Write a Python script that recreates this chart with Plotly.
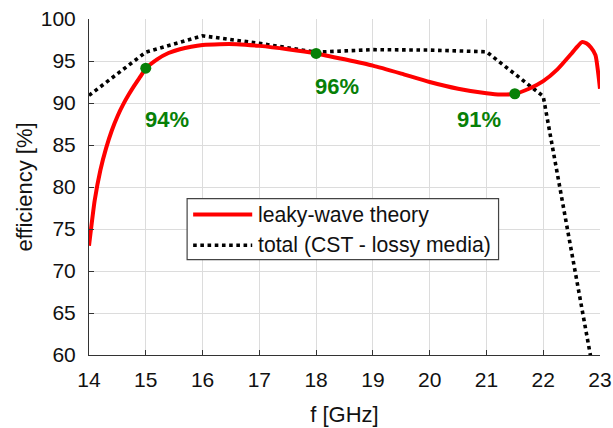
import plotly.graph_objects as go

# ---- data ----
theory_f = [14.0, 14.1, 14.2, 14.3, 14.4, 14.5, 14.6, 14.7, 14.8, 14.9, 15.0,
            15.2, 15.4, 15.6, 15.8, 16.0, 16.3, 16.6, 17.0, 17.5, 18.0, 18.5,
            19.0, 19.5, 20.0, 20.5, 21.0, 21.25, 21.5, 21.75, 22.0, 22.25,
            22.5, 22.6, 22.68, 22.76, 22.84, 22.92, 23.0]
theory_eff = [73.0, 78.4, 82.0, 84.6, 86.7, 88.4, 89.8, 91.0, 92.1, 93.1, 94.1,
              95.2, 95.95, 96.4, 96.7, 96.9, 97.0, 97.0, 96.8, 96.4, 95.9, 95.2,
              94.45, 93.5, 92.5, 91.7, 91.15, 91.0, 91.1, 91.7, 92.6, 94.0,
              95.9, 96.7, 97.25, 97.1, 96.6, 95.7, 91.7]

cst_f = [14, 15, 16, 17, 18, 19, 20, 21, 22, 23]
cst_eff = [90.9, 96.05, 98.0, 97.1, 96.05, 96.35, 96.3, 96.1, 90.8, 53.7]

mark_f = [15, 18, 21.5]
mark_eff = [94.15, 95.9, 91.1]
mark_labels = ["94%", "96%", "91%"]
label_f = [15, 18, 20.5]
label_eff = [88, 92, 88]

legend_names = ["leaky-wave theory", "total (CST - lossy media)"]
x_ticks = list(range(14, 24))
y_ticks = list(range(60, 101, 5))

FONT = "Arial, Liberation Sans, sans-serif"
GREEN = "#078007"

fig = go.Figure()
fig.add_trace(go.Scatter(x=cst_f, y=cst_eff, mode="lines",
                         line=dict(color="black", width=3.6, dash="dot"),
                         name=legend_names[1], showlegend=False))
fig.add_trace(go.Scatter(x=theory_f, y=theory_eff, mode="lines",
                         line=dict(color="#ff0000", width=4, shape="spline", smoothing=0.5),
                         name=legend_names[0], showlegend=False))
fig.add_trace(go.Scatter(x=mark_f, y=mark_eff, mode="markers",
                         marker=dict(color=GREEN, size=11), showlegend=False))

for xf, yf, t in zip(label_f, label_eff, mark_labels):
    fig.add_annotation(x=xf, y=yf, text="<b>%s</b>" % t, showarrow=False,
                       xanchor="left", yanchor="middle", xshift=-3,
                       font=dict(family=FONT, size=22, color=GREEN))

# ---- custom legend (box, samples, labels) ----
bx0, bx1, by0, by1 = 0.192, 0.8015, 0.284, 0.4655
rows = [0.418, 0.3265]
fig.add_shape(type="rect", xref="paper", yref="paper", x0=bx0, x1=bx1, y0=by0, y1=by1,
              line=dict(color="#444", width=1.2), fillcolor="white", layer="above")
fig.add_shape(type="line", xref="paper", yref="paper", x0=0.2038, x1=0.3194,
              y0=rows[0], y1=rows[0], line=dict(color="#ff0000", width=4), layer="above")
fig.add_shape(type="line", xref="paper", yref="paper", x0=0.2038, x1=0.3194,
              y0=rows[1], y1=rows[1], line=dict(color="black", width=3.6, dash="dot"),
              layer="above")
for r, name in zip(rows, legend_names):
    fig.add_annotation(xref="paper", yref="paper", x=0.3262, y=r, text=name,
                       showarrow=False, xanchor="left", yanchor="middle",
                       font=dict(family=FONT, size=21.2, color="#111"))

axis_common = dict(showgrid=True, gridcolor="#dcdcdc", gridwidth=1,
                   showline=True, linecolor="#333", linewidth=1,
                   ticks="inside", ticklen=5, tickcolor="#333",
                   tickfont=dict(family=FONT, size=21, color="#111"),
                   zeroline=False, mirror=False, automargin=False)

fig.update_xaxes(range=[14, 23], tickvals=x_ticks,
                 title=dict(text="f [GHz]", font=dict(family=FONT, size=22, color="#111"),
                            standoff=16),
                 ticklabelstandoff=6, **axis_common)
fig.update_yaxes(range=[60, 100], tickvals=y_ticks,
                 title=dict(text="efficiency [%]", font=dict(family=FONT, size=22, color="#111"),
                            standoff=2),
                 ticklabelstandoff=8, **axis_common)

fig.update_layout(width=613, height=428, autosize=False,
                  margin=dict(l=89, r=13, t=19, b=73),
                  plot_bgcolor="white", paper_bgcolor="white",
                  showlegend=False)

fig.write_html("out.html")
